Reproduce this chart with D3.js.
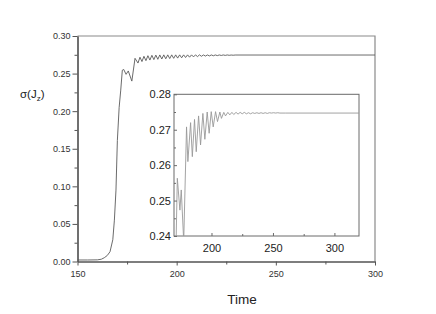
<!DOCTYPE html>
<html><head><meta charset="utf-8">
<script src="https://cdn.jsdelivr.net/npm/d3@7"></script>
<style>body{margin:0;background:#fff}svg{display:block}text{font-family:"Liberation Sans",Arial,sans-serif}</style>
</head><body><svg id="c" width="436" height="314"></svg>
<script>
// ---- data ----
const mainTicksX = [150, 200, 250, 300];
const mainTicksY = [0.00, 0.05, 0.10, 0.15, 0.20, 0.25, 0.30];
const insetTicksX = [200, 250, 300];
const insetTicksY = [0.24, 0.25, 0.26, 0.27, 0.28];

const mainTime = [150, 155, 160, 162, 163.5, 165, 166.4, 167.8, 168.6, 169.4, 170.1, 171.0, 171.8, 172.6, 173.3,
  174.5, 175.6, 177.4, 179.0,
  180.5, 181.5, 182.5, 183.5, 184.5, 185.5, 186.5, 187.5, 188.5, 189.5, 190.5, 191.5, 192.5, 193.5, 194.5,
  195.5, 196.5, 197.5, 198.5, 199.5, 200.5, 201.5, 202.5, 203.5, 204.5, 205.5, 206.5, 207.5, 208.5, 209.5,
  210.5, 211.5, 212.5, 213.5, 214.5, 215.5, 216.5, 217.5, 218.5, 219.5, 220.5, 221.5, 222.5, 223.5, 224.5,
  225.5, 226.5, 227.5, 228.5, 229.5, 300];
const mainValue = [0.002, 0.002, 0.0022, 0.003, 0.005, 0.008, 0.013, 0.029, 0.055, 0.095, 0.161, 0.205, 0.228, 0.2545, 0.2555,
  0.2490, 0.2535, 0.2400, 0.2703,
  0.2640, 0.2718, 0.2660, 0.2730, 0.2672, 0.2738, 0.2680, 0.2743, 0.2686, 0.2746, 0.2690, 0.2748, 0.2694, 0.2749, 0.2697,
  0.2749, 0.2700, 0.2749, 0.2703, 0.2749, 0.2706, 0.2749, 0.2710, 0.2749, 0.2714, 0.2749, 0.2718, 0.2749, 0.2722, 0.2749,
  0.2726, 0.2749, 0.2730, 0.2748, 0.2733, 0.2748, 0.2735, 0.2748, 0.2737, 0.2748, 0.2739, 0.2748, 0.2741, 0.2748, 0.2742,
  0.2748, 0.2743, 0.2747, 0.2744, 0.2747, 0.2747];

const insetTime = [169.5, 170.3, 171.3, 172.2, 174.3, 175.4, 177.4, 179.7, 180.8, 183.0, 184.4, 186.2, 187.6, 189.5, 191.1,
  193.0, 194.6, 196.5, 198.1, 199.8, 201.4, 203.3, 204.9, 206.8, 208.1, 210.0, 211.4, 213.3, 214.9, 216.6, 218.1,
  220.0, 221.6, 223.3, 225.0, 226.7, 228.4, 230.1, 231.8, 233.5, 235.2, 236.9, 238.6, 240.3, 242.0, 243.7, 245.4,
  247.1, 248.8, 250.5, 252.2, 253.9, 255.6, 260, 320];
const insetValue = [0.150, 0.190, 0.2400, 0.2563, 0.2473, 0.2530, 0.2385, 0.2708, 0.2610, 0.2720, 0.2624, 0.2729, 0.2638, 0.2739, 0.2657,
  0.2746, 0.2673, 0.2750, 0.2690, 0.2751, 0.2708, 0.2751, 0.2723, 0.2750, 0.2732, 0.2749, 0.2739, 0.2749, 0.2742, 0.2749, 0.2743,
  0.2749, 0.2744, 0.2749, 0.2745, 0.2749, 0.2745, 0.2748, 0.2745, 0.2748, 0.2746, 0.2748, 0.2746, 0.2748, 0.2746, 0.2748, 0.2746,
  0.2748, 0.2747, 0.2748, 0.2747, 0.2748, 0.2747, 0.2747, 0.2747];

// ---- drawing ----
const svg = d3.select("#c");
const M = {l: 77.5, r: 375, t: 36, b: 261.5};
const x = d3.scaleLinear().domain([150, 300]).range([M.l, M.r]);
const y = d3.scaleLinear().domain([0, 0.30]).range([M.b, M.t]);

const defs = svg.append("defs");
defs.append("clipPath").attr("id", "cm").append("rect")
  .attr("x", M.l).attr("y", M.t).attr("width", M.r - M.l).attr("height", M.b - M.t);

// frame top/right
svg.append("path").attr("d", `M${M.l},${M.t}H${M.r}V${M.b}`).attr("fill", "none")
  .attr("stroke", "#8a8a8a").attr("stroke-width", 1.2);

// main curve
const lineMain = d3.line().x((d, i) => x(mainTime[i])).y((d, i) => y(mainValue[i]));
svg.append("path").datum(mainValue).attr("clip-path", "url(#cm)")
  .attr("d", lineMain).attr("fill", "none").attr("stroke", "#5a5a5a").attr("stroke-width", 0.9);

// main axes
const ax = svg.append("g").attr("transform", `translate(0,${M.b})`)
  .call(d3.axisBottom(x).tickValues(mainTicksX).tickFormat(d3.format("d")).tickSize(4).tickSizeOuter(0));
const axMinor = svg.append("g").attr("transform", `translate(0,${M.b})`)
  .call(d3.axisBottom(x).tickValues([175, 225, 275]).tickFormat("").tickSize(3).tickSizeOuter(0));
const ay = svg.append("g").attr("transform", `translate(${M.l},0)`)
  .call(d3.axisLeft(y).tickValues(mainTicksY).tickFormat(d3.format(".2f")).tickSize(5).tickSizeOuter(0));
const ayMinor = svg.append("g").attr("transform", `translate(${M.l},0)`)
  .call(d3.axisLeft(y).tickValues([0.025, 0.075, 0.125, 0.175, 0.225, 0.275]).tickFormat("").tickSize(3).tickSizeOuter(0));
[ax, axMinor, ay, ayMinor].forEach(g => {
  g.select(".domain").attr("stroke", "#555").attr("stroke-width", 1.2);
  g.selectAll(".tick line").attr("stroke", "#555");
  g.selectAll("text").attr("font-size", 9).attr("fill", "#333").attr("font-family", "Liberation Sans, Arial, sans-serif");
});
ax.selectAll("text").attr("dy", "0.6em").attr("y", 10);
ay.selectAll("text").attr("x", -7);

// titles
svg.append("text").attr("x", 242).attr("y", 304).attr("text-anchor", "middle")
  .attr("font-size", 13.5).attr("fill", "#222").text("Time");
const yt = svg.append("text").attr("x", 20).attr("y", 98).attr("font-size", 11.5).attr("fill", "#222");
yt.append("tspan").text("σ(J");
yt.append("tspan").attr("font-size", 8).attr("dy", 3).text("z");
yt.append("tspan").attr("dy", -3).text(")");

// ---- inset ----
const I = {l: 174, r: 359, t: 94.3, b: 236};
const xi = d3.scaleLinear().domain([169.5, 320]).range([I.l, I.r]);
const yi = d3.scaleLinear().domain([0.24, 0.28]).range([I.b, I.t]);
defs.append("clipPath").attr("id", "ci").append("rect")
  .attr("x", I.l).attr("y", I.t).attr("width", I.r - I.l).attr("height", I.b - I.t);
svg.append("rect").attr("x", I.l).attr("y", I.t).attr("width", I.r - I.l).attr("height", I.b - I.t)
  .attr("fill", "#fff").attr("stroke", "#6a6a6a").attr("stroke-width", 1);
const lineInset = d3.line().x((d, i) => xi(insetTime[i])).y((d, i) => yi(insetValue[i]));
svg.append("path").datum(insetValue).attr("clip-path", "url(#ci)")
  .attr("d", lineInset).attr("fill", "none").attr("stroke", "#999").attr("stroke-width", 0.9);

const ix = svg.append("g").attr("transform", `translate(0,${I.b})`)
  .call(d3.axisTop(xi).tickValues(insetTicksX).tickFormat(d3.format("d")).tickSize(3).tickSizeOuter(0));
const ixMinor = svg.append("g").attr("transform", `translate(0,${I.b})`)
  .call(d3.axisTop(xi).tickValues([225, 275]).tickFormat("").tickSize(2).tickSizeOuter(0));
const iy = svg.append("g").attr("transform", `translate(${I.l},0)`)
  .call(d3.axisRight(yi).tickValues(insetTicksY).tickFormat(d3.format(".2f")).tickSize(3).tickSizeOuter(0));
const iyMinor = svg.append("g").attr("transform", `translate(${I.l},0)`)
  .call(d3.axisRight(yi).tickValues([0.245, 0.255, 0.265, 0.275]).tickFormat("").tickSize(2).tickSizeOuter(0));
[ix, ixMinor, iy, iyMinor].forEach(g => {
  g.select(".domain").attr("stroke", "none");
  g.selectAll(".tick line").attr("stroke", "#6a6a6a");
  g.selectAll("text").attr("font-size", 11).attr("fill", "#222").attr("font-family", "Liberation Sans, Arial, sans-serif");
});
ix.selectAll("text").attr("y", 16).attr("dy", "0");
iy.selectAll("text").attr("x", -3).attr("text-anchor", "end");
</script></body></html>
